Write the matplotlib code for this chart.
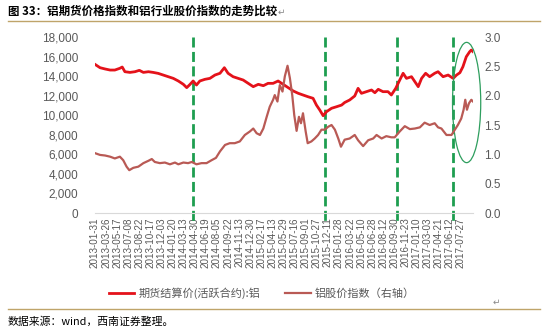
import matplotlib
matplotlib.use("Agg")
import matplotlib.pyplot as plt
from matplotlib.patches import Ellipse
from matplotlib.ticker import FuncFormatter, FixedLocator
import numpy as np

CJK = ["Noto Sans CJK SC", "DejaVu Sans"]
NUM = "Liberation Sans"

# category axis: trading-session number, labelled every 33 sessions
tick_labels = [
    "2013-01-31", "2013-03-26", "2013-05-17", "2013-07-08", "2013-08-22",
    "2013-10-17", "2013-12-03", "2014-01-20", "2014-03-13", "2014-04-30",
    "2014-06-19", "2014-08-05", "2014-09-22", "2014-11-13", "2014-12-30",
    "2015-02-17", "2015-04-13", "2015-05-29", "2015-07-16", "2015-09-01",
    "2015-10-27", "2015-12-11", "2016-01-28", "2016-03-22", "2016-05-10",
    "2016-06-28", "2016-08-12", "2016-09-30", "2016-11-23", "2017-01-10",
    "2017-03-03", "2017-04-21", "2017-06-12", "2017-07-27",
]
label_step = 33

# aluminium futures settlement price (active contract), yuan/ton
fut_session = [0, 15, 30, 45, 59, 74, 81, 89, 104, 119, 132, 144, 159, 173,
               188, 203, 218, 233, 248, 263, 273, 283, 292, 302, 312, 327, 342,
               357, 372, 385, 396, 411, 426, 441, 456, 471, 486, 501, 515, 530,
               545, 560, 575, 590, 605, 619, 634, 649, 659, 669, 679, 689, 704,
               719, 734, 743, 758, 773, 783, 793, 808, 823, 833, 843, 857, 872,
               882, 895, 907, 917, 927, 942, 952, 962, 972, 984, 996, 1011, 1021,
               1036, 1051, 1066, 1076, 1086, 1095, 1105, 1115, 1120, 1125]
fut_price = [15200, 14860, 14730, 14620, 14620, 14800, 14930, 14450, 14380,
             14450, 14590, 14380, 14450, 14380, 14280, 14110, 13940, 13770,
             13500, 13160, 12820, 13160, 13500, 13090, 13500, 13670, 13770,
             14110, 14290, 14860, 14290, 13940, 13770, 13600, 13260, 12920,
             13160, 13020, 13260, 13260, 13500, 13160, 12820, 12480, 12240,
             12070, 11890, 11730, 11040, 10530, 9950, 10360, 10710, 10870,
             11040, 11300, 11560, 11970, 12750, 12240, 12410, 12580, 12300,
             12650, 12410, 12410, 12070, 12750, 13600, 14290, 13770, 13940,
             13430, 12920, 13770, 14290, 13940, 14290, 14450, 13940, 14110,
             13770, 14110, 14350, 14960, 15980, 16490, 16670, 16500]

# aluminium sector share-price index (right axis)
stk_session = [0, 15, 30, 45, 59, 74, 84, 94, 102, 114, 129, 144, 159, 169,
               178, 193, 208, 223, 238, 248, 263, 277, 288, 302, 317, 332, 347,
               360, 372, 387, 401, 416, 431, 446, 461, 471, 481, 491, 501, 511,
               520, 530, 535, 543, 550, 558, 565, 573, 580, 587, 593, 600, 607,
               613, 619, 627, 633, 644, 654, 664, 674, 684, 694, 704, 714, 724,
               732, 743, 758, 773, 783, 798, 813, 828, 838, 853, 867, 882, 892,
               907, 922, 937, 952, 967, 981, 996, 1011, 1021, 1031, 1046, 1061,
               1071, 1080, 1090, 1097, 1102, 1107, 1113, 1120, 1125]
stk_index = [1.02, 0.99, 0.98, 0.96, 0.93, 0.96, 0.90, 0.79, 0.73, 0.77, 0.79,
             0.85, 0.89, 0.92, 0.87, 0.85, 0.86, 0.83, 0.86, 0.83, 0.86, 0.85,
             0.87, 0.83, 0.85, 0.85, 0.90, 0.94, 1.05, 1.16, 1.19, 1.19, 1.22,
             1.33, 1.39, 1.44, 1.36, 1.33, 1.44, 1.64, 1.81, 1.93, 2.01, 1.90,
             2.18, 2.07, 2.33, 2.51, 2.30, 2.01, 1.67, 1.40, 1.64, 1.53, 1.70,
             1.39, 1.19, 1.22, 1.27, 1.33, 1.42, 1.42, 1.47, 1.50, 1.42, 1.27,
             1.13, 1.25, 1.27, 1.33, 1.24, 1.14, 1.24, 1.27, 1.33, 1.27, 1.31,
             1.29, 1.29, 1.39, 1.48, 1.43, 1.44, 1.46, 1.54, 1.50, 1.53, 1.46,
             1.44, 1.33, 1.33, 1.42, 1.50, 1.61, 1.76, 1.93, 1.76, 1.87, 1.93,
             1.90]

# turning points marked with dashed verticals
event_sessions = [291, 684, 898, 1064]

FUT_COLOR = "#E4121A"
STK_COLOR = "#B95A55"
GREEN = "#1E9E50"
GRAY_TXT = "#595959"
RULE = "#BFA46A"

fig = plt.figure(figsize=(5.46, 3.30), dpi=100)
W, H = 546, 330
ax = fig.add_axes([95 / W, 1 - 213 / H, (473 - 95) / W, (213 - 37) / H])
ax2 = ax.twinx()

ax.plot(fut_session, fut_price, color=FUT_COLOR, lw=2.0, solid_joinstyle="round",
        label="期货结算价(活跃合约):铝", zorder=3)
ax2.plot(stk_session, stk_index, color=STK_COLOR, lw=1.6, solid_joinstyle="round",
         label="铝股价指数（右轴）", zorder=3)

ax.set_xlim(0, fut_session[-1])
ax.set_ylim(0, 18000)
ax2.set_ylim(0, 3.0)

# event lines run from the top of the plot to just below the axis line
for s in event_sessions:
    ax.plot([s, s], [18000, -1150], color=GREEN, lw=2.0,
            linestyle=(0, (3.6, 1.6)), clip_on=False, zorder=2)

# highlight of the latest rally
ell = Ellipse((1106, 11300), width=84, height=12300, fill=False,
              edgecolor="#2E9E5E", lw=0.9, clip_on=False, zorder=4)
ax.add_patch(ell)

for a in (ax, ax2):
    for side in ("left", "right", "top"):
        a.spines[side].set_visible(False)
ax2.spines["bottom"].set_visible(False)
ax.spines["bottom"].set_color("#D9D9D9")
ax.spines["bottom"].set_linewidth(0.8)

ax.set_yticks(np.arange(0, 18001, 2000))
ax.yaxis.set_major_formatter(FuncFormatter(lambda v, p: f"{v:,.0f}"))
ax2.set_yticks(np.arange(0, 3.01, 0.5))
ax2.yaxis.set_major_formatter(FuncFormatter(lambda v, p: f"{v:.1f}"))

ax.xaxis.set_major_locator(FixedLocator([i * label_step for i in range(len(tick_labels))]))
ax.set_xticklabels(tick_labels, rotation=90)

ax.tick_params(axis="y", length=0, pad=12, labelsize=8.5, labelcolor=GRAY_TXT)
ax2.tick_params(axis="y", length=0, pad=8, labelsize=8.5, labelcolor=GRAY_TXT)
ax.tick_params(axis="x", length=0, pad=3, labelsize=7.1, labelcolor=GRAY_TXT)
for lab in ax.get_yticklabels() + ax2.get_yticklabels() + ax.get_xticklabels():
    lab.set_fontfamily(NUM)

# caption rules and texts
fig.add_artist(plt.Line2D([8 / W, 540 / W], [1 - 21 / H] * 2, color=RULE, lw=1.0))
fig.add_artist(plt.Line2D([8 / W, 540 / W], [1 - 309 / H] * 2, color=RULE, lw=1.0))
fig.text(8 / W, 1 - 11 / H, "图 33：铝期货价格指数和铝行业股价指数的走势比较",
         family=CJK, fontsize=8.3, fontweight="bold", va="center", ha="left")
fig.text(278 / W, 1 - 12 / H, "↵", family=CJK, fontsize=6.5, color="#888888",
         va="center", ha="left")
fig.text(493 / W, 1 - 302 / H, "↵", family=CJK, fontsize=6.5, color="#888888",
         va="center", ha="left")
fig.text(8 / W, 1 - 322 / H, "数据来源：wind，西南证券整理。", family=CJK,
         fontsize=7.8, style="italic", va="center", ha="left")

h1, l1 = ax.get_legend_handles_labels()
h2, l2 = ax2.get_legend_handles_labels()
leg = fig.legend(h1 + h2, l1 + l2, loc="center", bbox_to_anchor=(262 / W, 1 - 293 / H),
                 ncol=2, frameon=False, handlelength=2.3, handletextpad=0.4,
                 columnspacing=2.2, prop={"family": CJK, "size": 8})
for t in leg.get_texts():
    t.set_color(GRAY_TXT)

fig.savefig("out.png", dpi=100)
